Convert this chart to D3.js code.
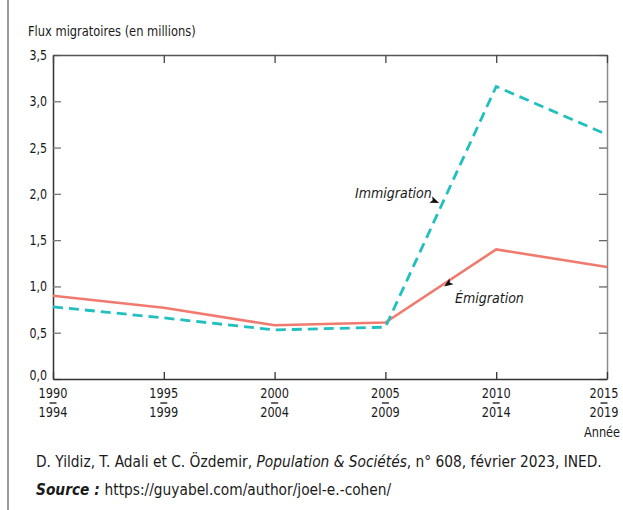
<!DOCTYPE html>
<html>
<head>
<meta charset="utf-8">
<script src="https://cdn.jsdelivr.net/npm/d3@7"></script>
<style>
  body { margin: 0; background: #fff; }
  svg { display: block; }
  text { font-family: "Liberation Sans Narrow", "DejaVu Sans Condensed", sans-serif; fill: #1a1a1a; }
</style>
</head>
<body>
<script>
// data
const startYears = [1990, 1995, 2000, 2005, 2010, 2015];
const endYears = [1994, 1999, 2004, 2009, 2014, 2019];
const emigration = [0.90, 0.77, 0.58, 0.61, 1.40, 1.21];
const immigration = [0.78, 0.66, 0.53, 0.56, 3.16, 2.64];
const yTicks = [0, 0.5, 1.0, 1.5, 2.0, 2.5, 3.0, 3.5];

const W = 623, H = 510;
const margin = { left: 53, top: 55, right: 16, bottom: 131 };
const w = W - margin.left - margin.right;
const h = H - margin.top - margin.bottom;

// squeeze text horizontally, the original uses a condensed face
function condense(sel, s) {
    sel.each(function () {
        const t = d3.select(this);
        const x0 = +t.attr('x') || 0;
        t.attr('x', x0 / s).attr('transform', `scale(${s},1)`);
    });
}

const svg = d3.select('body').append('svg')
    .attr('width', W)
    .attr('height', H);

// grey rule on the left
svg.append('line')
    .attr('x1', 8).attr('x2', 8)
    .attr('y1', 0).attr('y2', H)
    .attr('stroke', '#9a9a9a')
    .attr('stroke-width', 2);

svg.append('text')
    .attr('x', 28)
    .attr('y', 36)
    .attr('font-size', 14.5)
    .text('Flux migratoires (en millions)')
    .call(condense, 0.88);

const g = svg.append('g')
    .attr('transform', `translate(${margin.left},${margin.top})`);

const x = d3.scaleLinear().domain([1990, 2015]).range([0, w]);
const y = d3.scaleLinear().domain([0, 3.5]).range([h, 0]);

const fmt = d => d3.format('.1f')(d).replace('.', ',');

// axes
const leftAxis = g.append('g')
    .call(d3.axisLeft(y).tickValues(yTicks).tickSize(-8).tickSizeOuter(0).tickPadding(6).tickFormat(fmt));
leftAxis.select('.domain').attr('stroke', '#333').attr('stroke-width', 1.5);
leftAxis.selectAll('.tick line').attr('stroke', '#777').attr('stroke-width', 1.3);
leftAxis.selectAll('.tick text')
    .attr('font-size', 14)
    .attr('font-family', '"Liberation Sans Narrow", "DejaVu Sans Condensed", sans-serif')
    .attr('fill', '#1a1a1a')
    .attr('y', d => d === 0 ? -3.5 : 0)
    .call(condense, 0.88);

const rightAxis = g.append('g')
    .attr('transform', `translate(${w},0)`)
    .call(d3.axisRight(y).tickValues(yTicks).tickSize(-8).tickSizeOuter(0).tickFormat(''));
rightAxis.select('.domain').attr('stroke', '#8a8a8a').attr('stroke-width', 1.5);
rightAxis.selectAll('.tick line').attr('stroke', '#666').attr('stroke-width', 1.3);

const topAxis = g.append('g')
    .call(d3.axisTop(x).tickValues(startYears).tickSize(-8).tickSizeOuter(0).tickFormat(''));
topAxis.select('.domain').attr('stroke', '#555').attr('stroke-width', 1.3);
topAxis.selectAll('.tick line').attr('stroke', '#444').attr('stroke-width', 1.3);

const bottomAxis = g.append('g')
    .attr('transform', `translate(0,${h})`)
    .call(d3.axisBottom(x).tickValues(startYears).tickSize(-7).tickSizeOuter(0).tickFormat(''));
bottomAxis.select('.domain').attr('stroke', '#333').attr('stroke-width', 1.5);
bottomAxis.selectAll('.tick line').attr('stroke', '#333').attr('stroke-width', 1.3);

// period labels
const lab = bottomAxis.selectAll('.period')
    .data(startYears)
    .join('g')
    .attr('class', 'period')
    .attr('transform', (d, i) => `translate(${x(d) - (i === startYears.length - 1 ? 3 : 0)},0)`);
lab.append('text')
    .attr('y', 19)
    .attr('text-anchor', 'middle')
    .attr('font-size', 14.5)
    .text(d => d)
    .call(condense, 0.87);
lab.append('line')
    .attr('x1', -3.5).attr('x2', 3.5)
    .attr('y1', 24).attr('y2', 24)
    .attr('stroke', '#333')
    .attr('stroke-width', 1.5);
lab.append('text')
    .attr('y', 38)
    .attr('text-anchor', 'middle')
    .attr('font-size', 14.5)
    .text((d, i) => endYears[i])
    .call(condense, 0.87);

bottomAxis.append('text')
    .attr('x', w - 5)
    .attr('y', 58)
    .attr('text-anchor', 'middle')
    .attr('font-size', 14.5)
    .text('Année')
    .call(condense, 0.87);

// lines
const line = d3.line()
    .x((d, i) => x(startYears[i]))
    .y(d => y(d));

g.append('path')
    .datum(emigration)
    .attr('fill', 'none')
    .attr('stroke', '#f07a6e')
    .attr('stroke-width', 2.6)
    .attr('d', line);

g.append('path')
    .datum(immigration)
    .attr('fill', 'none')
    .attr('stroke', '#22bfbf')
    .attr('stroke-width', 2.8)
    .attr('stroke-dasharray', '10,6')
    .attr('d', line);

// annotations
const notes = [
    { text: 'Immigration', year: 2007.42, value: 1.90, tx: -84, ty: -5, angle: 204 },
    { text: 'Émigration', year: 2007.65, value: 1.00, tx: 11, ty: 17, angle: -35 }
];

notes.forEach(n => {
    const px = x(n.year), py = y(n.value);
    g.append('text')
        .attr('x', px + n.tx)
        .attr('y', py + n.ty)
        .attr('font-size', 14)
        .attr('font-style', 'italic')
        .text(n.text);
    g.append('path')
        .attr('transform', `translate(${px},${py}) rotate(${n.angle})`)
        .attr('d', 'M0,0 L9,-3.5 L7,0 L9,3.5 Z')
        .attr('fill', '#111');
});

// caption
const cap = svg.append('text')
    .attr('x', 36)
    .attr('y', 467)
    .attr('font-size', 15.3);
cap.append('tspan').text('D. Yildiz, T. Adali et C. Özdemir, ');
cap.append('tspan').attr('font-style', 'italic').text('Population & Sociétés');
cap.append('tspan').text(', n° 608, février 2023, INED.');

const src = svg.append('text')
    .attr('x', 36)
    .attr('y', 495)
    .attr('font-size', 15.3);
src.append('tspan').attr('font-weight', 'bold').attr('font-style', 'italic').text('Source : ');
src.append('tspan').text('https://guyabel.com/author/joel-e.-cohen/');
</script>
</body>
</html>
